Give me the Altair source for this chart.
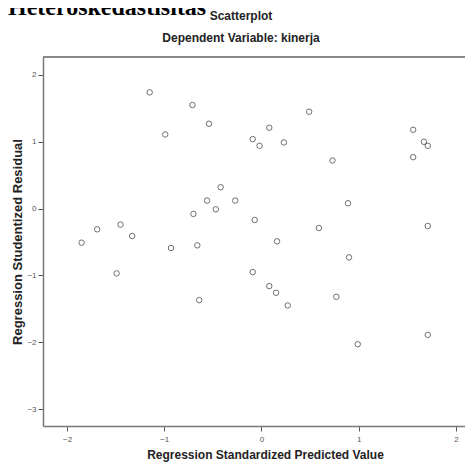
import altair as alt
import pandas as pd

pred = [-1.15, -0.71, -0.54, -0.99, -0.09, -0.02, -0.42, -0.56, -0.27, -0.47,
        -0.70, -0.07, -1.45, -1.69, -1.33, -1.85, -0.93, -0.66, 0.49, 0.08,
        0.23, 0.73, 1.56, 1.67, 1.71, 1.56, 0.89, 0.59, 1.71, 0.16,
        0.90, -1.49, -0.09, -0.64, 0.08, 0.15, 0.27, 0.77, 0.99, 1.71]
resid = [1.74, 1.55, 1.27, 1.11, 1.04, 0.94, 0.32, 0.12, 0.12, -0.01,
         -0.08, -0.17, -0.24, -0.31, -0.41, -0.51, -0.59, -0.55, 1.45, 1.21,
         0.99, 0.72, 1.18, 1.00, 0.94, 0.77, 0.08, -0.29, -0.26, -0.49,
         -0.73, -0.97, -0.95, -1.37, -1.16, -1.26, -1.45, -1.32, -2.03, -1.89]
x_ticks = [-2, -1, 0, 1, 2]
y_ticks = [-3, -2, -1, 0, 1, 2]
heading_text = ["Heteroskedastisitas"]
title_text = ["Scatterplot"]
subtitle_text = ["Dependent Variable: kinerja"]

df = pd.DataFrame({"pred": pred, "resid": resid})

W, H = 422, 369

points = alt.Chart(df).mark_point(
    shape="circle", filled=False, size=30, strokeWidth=1, color="#333"
).encode(
    x=alt.X("pred:Q",
            scale=alt.Scale(domain=[-2.247, 2.093], nice=False, zero=False),
            axis=alt.Axis(values=x_ticks, title="Regression Standardized Predicted Value",
                          grid=False, tickSize=5, labelPadding=4, labelFontSize=8,
                          labelColor="#555", tickColor="#555", domainColor="#777",
                          domainWidth=1.5, titleFontSize=12, titleFont="Liberation Sans",
                          titleFontWeight="bold", titleColor="#222", titlePadding=6,
                          titleX=222, labelFont="Liberation Sans")),
    y=alt.Y("resid:Q",
            scale=alt.Scale(domain=[-3.254, 2.269], nice=False, zero=False),
            axis=alt.Axis(values=y_ticks, title="Regression Studentized Residual",
                          grid=False, tickSize=5, labelPadding=2, labelFontSize=8,
                          labelColor="#555", tickColor="#555", domainColor="#777",
                          domainWidth=1.5, titleFontSize=13, titleFont="Liberation Sans",
                          titleFontWeight="bold", titleColor="#222", titlePadding=2,
                          labelFont="Liberation Sans")),
)

top_line = alt.Chart(df).mark_rule(color="#888", strokeWidth=1.5).encode(
    x=alt.value(0), x2=alt.value(W), y=alt.value(0)
)

heading = alt.Chart(pd.DataFrame({"t": heading_text})).mark_text(
    align="left", baseline="alphabetic", font="Liberation Serif",
    fontWeight="bold", fontSize=24, color="#000"
).encode(x=alt.value(-35), y=alt.value(-42), text="t:N")

title = alt.Chart(pd.DataFrame({"t": title_text})).mark_text(
    align="center", baseline="middle", font="Liberation Sans",
    fontWeight="bold", fontSize=12, color="#222"
).encode(x=alt.value(198), y=alt.value(-41), text="t:N")

subtitle = alt.Chart(pd.DataFrame({"t": subtitle_text})).mark_text(
    align="center", baseline="middle", font="Liberation Sans",
    fontWeight="bold", fontSize=12, color="#222"
).encode(x=alt.value(198), y=alt.value(-19), text="t:N")

chart = alt.layer(top_line, points, heading, title, subtitle).properties(
    width=W, height=H,
    autosize=alt.AutoSizeParams(type="none"),
    padding={"left": 35, "top": 49, "right": 0, "bottom": 39},
).configure_view(stroke=None).configure(background="white")

chart.save("out.html", embed_options={"renderer": "svg", "actions": False})
